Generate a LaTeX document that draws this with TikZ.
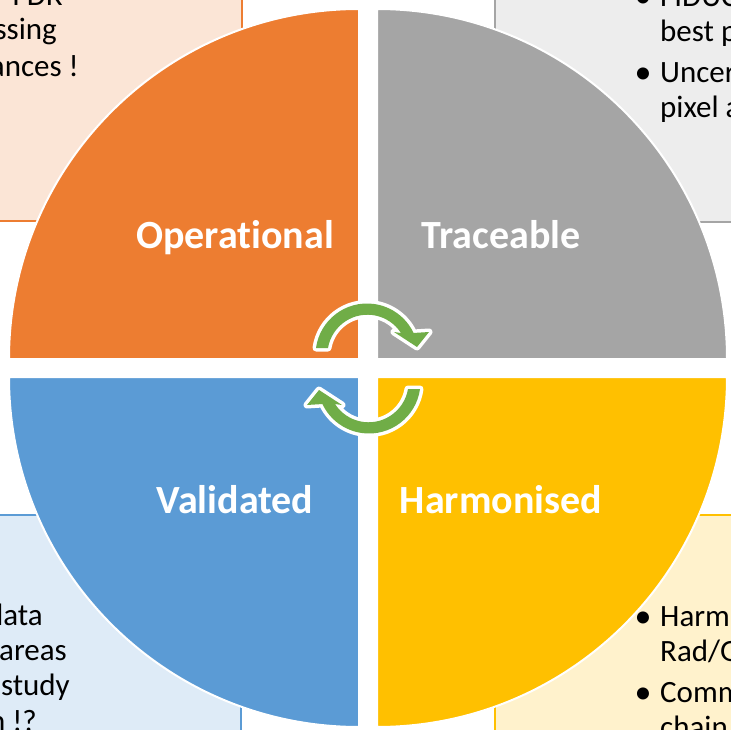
\documentclass[tikz,border=0pt]{standalone}
\usepackage{fontspec}
\setmainfont{Carlito}[Ligatures={NoCommon}]
\definecolor{qorange}{HTML}{ED7D31}
\definecolor{qgray}{HTML}{A5A5A5}
\definecolor{qblue}{HTML}{5B9BD5}
\definecolor{qgold}{HTML}{FFC000}
\definecolor{qgreen}{HTML}{70AD47}
\definecolor{borange}{HTML}{FBE5D6}
\definecolor{bgray}{HTML}{EDEDED}
\definecolor{bblue}{HTML}{DEEBF7}
\definecolor{bgold}{HTML}{FFF2CC}
\tikzset{
  boxstyle/.style={line width=2.5pt},
  quadstyle/.style={draw=white, line width=2pt},
  label/.style={text=white, font=\fontsize{40}{48}\selectfont\bfseries, anchor=base, inner sep=0pt},
  btext/.style={text=black, font=\fontsize{31}{36}\selectfont, inner sep=0pt},
  bullet/.style={text=black, font=\fontsize{34}{36}\selectfont, inner sep=0pt, anchor=base},
  arrowouter/.style={draw=white, line width=7pt, line join=round, fill=white},
  arrowinner/.style={fill=qgreen},
}
\begin{document}
\begin{tikzpicture}[x=1pt,y=-1pt]
\useasboundingbox (0,0) rectangle (731,730);
\clip (0,0) rectangle (731,730);
\fill[white] (0,0) rectangle (731,730);
% background boxes
\draw[boxstyle, draw=qorange, fill=borange] (-10,-10) rectangle (242,221);
\draw[boxstyle, draw=qgray, fill=bgray] (495,-10) rectangle (745,222);
\draw[boxstyle, draw=qblue, fill=bblue] (-10,515) rectangle (241,745);
\draw[boxstyle, draw=qgold, fill=bgold] (495,515) rectangle (745,745);
% box texts
\node[btext, anchor=base east] (tl1) at (63,6) {FDR};
\node[btext, anchor=base east] (tl2) at (57,40) {ssing};
\node[btext, anchor=base east] (tl3) at (79,77) {ances !};
\node[bullet] (trb1) at (643,8) {•};
\node[btext, anchor=base west] (tr1) at (660,7) {FIDUC};
\node[btext, anchor=base west] (tr2) at (660,42) {best p};
\node[bullet] (trb2) at (643,84) {•};
\node[btext, anchor=base west] (tr3) at (660,83) {Uncer};
\node[btext, anchor=base west] (tr4) at (660,118) {pixel a};
\node[btext, anchor=base east] (bl1) at (43,625) {data};
\node[btext, anchor=base east] (bl2) at (67,660) {areas};
\node[btext, anchor=base east] (bl3) at (70,695) {study};
\node[btext, anchor=base east] (bl4) at (37,731) {n !?};
\node[bullet] (brb1) at (643,627) {•};
\node[btext, anchor=base west] (br1) at (660,626) {Harm};
\node[btext, anchor=base west] (br2) at (660,661) {Rad/G};
\node[bullet] (brb2) at (643,703) {•};
\node[btext, anchor=base west] (br3) at (660,702) {Comm};
\node[btext, anchor=base west] (br4) at (660,737) {chain};
% quadrants
\draw[quadstyle, fill=qorange] (359,359) -- ++(-350,0) arc[start angle=180, end angle=270, radius=350] -- cycle;
\draw[quadstyle, fill=qgray] (377,359) -- ++(0,-350) arc[start angle=270, end angle=360, radius=350] -- cycle;
\draw[quadstyle, fill=qgold] (377,377) -- ++(350,0) arc[start angle=0, end angle=90, radius=350] -- cycle;
\draw[quadstyle, fill=qblue] (359,377) -- ++(0,350) arc[start angle=90, end angle=180, radius=350] -- cycle;
% labels
\node[label] (op) at (235,248) {Operational};
\node[label] (tr) at (501,248) {Traceable};
\node[label] (va) at (235,513) {Validated};
\node[label] (ha) at (501,513) {Harmonised};
% cycle arrows
\foreach \rot in {0,180}{
\begin{scope}[rotate around={\rot:(368,368.5)}]
\path[arrowouter] (328,348) -- (316,348) arc[start angle=187.8, end angle=334.7, radius=51.5] -- (429,332) -- (417,347) -- (394,332) -- (401,333) arc[start angle=327.1, end angle=190, radius=40] -- cycle;
\path[arrowinner] (328,348) -- (316,348) arc[start angle=187.8, end angle=334.7, radius=51.5] -- (429,332) -- (417,347) -- (394,332) -- (401,333) arc[start angle=327.1, end angle=190, radius=40] -- cycle;
\end{scope}
}
\end{tikzpicture}
\end{document}
